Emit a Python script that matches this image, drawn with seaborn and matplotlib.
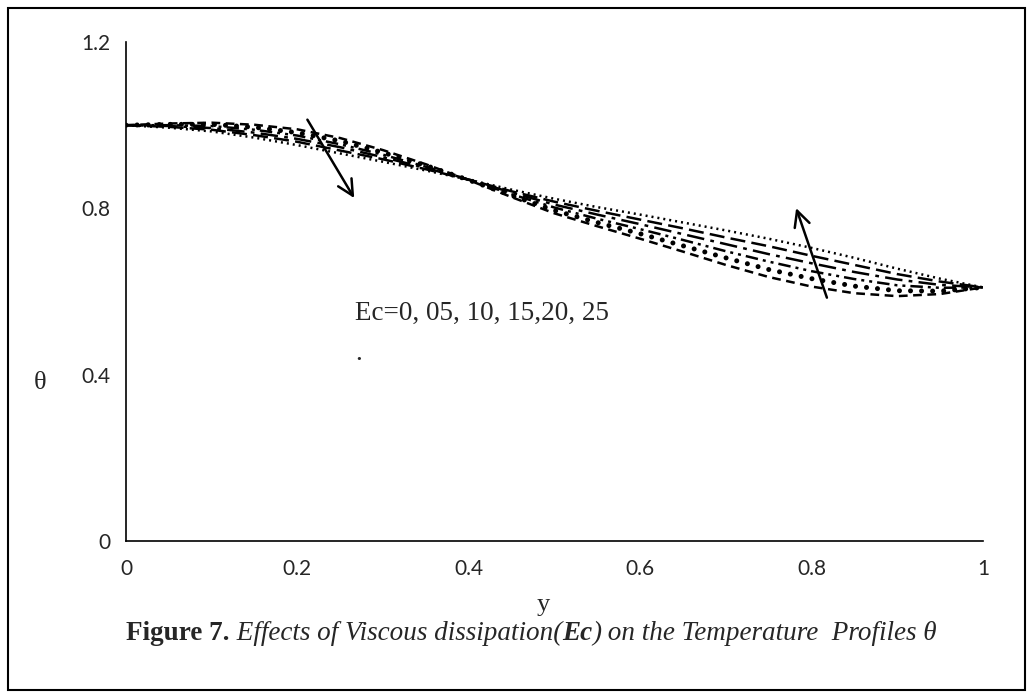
import numpy as np
import pandas as pd
import matplotlib.pyplot as plt
import matplotlib.patches as mpatches
import seaborn as sns

# valeurs (y de 0 a 1, pas 0.05)
y_vals = [0.00, 0.05, 0.10, 0.15, 0.20, 0.25, 0.30, 0.35, 0.40, 0.45, 0.50,
          0.55, 0.60, 0.65, 0.70, 0.75, 0.80, 0.85, 0.90, 0.95, 1.00]
theta_ec0 = [1.000, 0.994, 0.985, 0.970, 0.952, 0.932, 0.912, 0.891, 0.869, 0.845, 0.823,
             0.803, 0.785, 0.766, 0.747, 0.727, 0.705, 0.681, 0.655, 0.631, 0.610]
theta_ec5 = [1.000, 0.996, 0.989, 0.976, 0.960, 0.939, 0.918, 0.894, 0.869, 0.841, 0.816,
             0.794, 0.773, 0.752, 0.730, 0.709, 0.686, 0.664, 0.642, 0.624, 0.610]
theta_ec10 = [1.000, 0.998, 0.993, 0.982, 0.967, 0.947, 0.923, 0.897, 0.869, 0.838, 0.809,
              0.785, 0.762, 0.738, 0.714, 0.690, 0.668, 0.647, 0.629, 0.616, 0.610]
theta_ec15 = [1.000, 1.000, 0.998, 0.989, 0.975, 0.954, 0.929, 0.900, 0.869, 0.834, 0.802,
              0.775, 0.750, 0.724, 0.697, 0.672, 0.649, 0.630, 0.615, 0.609, 0.610]
theta_ec20 = [1.000, 1.002, 1.002, 0.995, 0.982, 0.962, 0.934, 0.903, 0.868, 0.831, 0.795,
              0.766, 0.739, 0.710, 0.681, 0.653, 0.631, 0.613, 0.602, 0.601, 0.610]
theta_ec25 = [1.000, 1.004, 1.006, 1.001, 0.990, 0.969, 0.940, 0.906, 0.868, 0.827, 0.788,
              0.757, 0.727, 0.696, 0.664, 0.635, 0.612, 0.596, 0.589, 0.594, 0.610]

ec_labels = ['0', '5', '10', '15', '20', '25']
x_ticks = [0, 0.2, 0.4, 0.6, 0.8, 1]
x_ticklabels = ['0', '0.2', '0.4', '0.6', '0.8', '1']
y_ticks = [0, 0.4, 0.8, 1.2]
y_ticklabels = ['0', '0.4', '0.8', '1.2']

series = [theta_ec0, theta_ec5, theta_ec10, theta_ec15, theta_ec20, theta_ec25]
df = pd.concat([pd.DataFrame({'y': y_vals, 'theta': s, 'Ec': ec})
                for ec, s in zip(ec_labels, series)], ignore_index=True)

sns.set_style('white')

fig = plt.figure(figsize=(10.33, 7.0), dpi=100)
ax = fig.add_axes([0.122, 0.227, 0.8295, 0.713])

dashes = {'0': (0.8, 1.6), '5': (6, 2.5), '10': (7, 2.5, 1.5, 2.5),
          '15': (5, 2, 1.2, 2, 1.2, 2), '20': (0.01, 2.2), '25': (3.5, 2.2)}
sns.lineplot(data=df, x='y', y='theta', style='Ec', dashes=dashes, color='black',
             linewidth=1.8, legend=False, ax=ax, sort=False)
for line, ec in zip(ax.get_lines(), ec_labels):
    if ec == '20':
        line.set_linewidth(3.6)
        line.set_dash_capstyle('round')

ax.set_xlim(0, 1)
ax.set_ylim(0, 1.2)
ax.set_xticks(x_ticks)
ax.set_xticklabels(x_ticklabels)
ax.set_yticks(y_ticks)
ax.set_yticklabels(y_ticklabels)
ax.tick_params(axis='both', direction='out', length=6, width=1.2, color='black',
               labelsize=15)
ax.tick_params(axis='x', pad=7)
ax.tick_params(axis='y', pad=5)
for lab in ax.get_xticklabels() + ax.get_yticklabels():
    lab.set_fontfamily('Lato')
sns.despine(ax=ax)
for side in ['left', 'bottom']:
    ax.spines[side].set_color('black')
    ax.spines[side].set_linewidth(1.2)
ax.set_xlabel('')
ax.set_ylabel('')

# fleches
ax.annotate('', xy=(0.268, 0.819), xytext=(0.210, 1.019),
            arrowprops=dict(arrowstyle='->', lw=1.8, color='black', mutation_scale=28))
ax.annotate('', xy=(0.781, 0.807), xytext=(0.819, 0.579),
            arrowprops=dict(arrowstyle='->', lw=1.8, color='black', mutation_scale=28))

ax.text(0.267, 0.548, 'Ec=0, 05, 10, 15,20, 25', fontsize=19.5,
        fontfamily='Liberation Serif', va='center')
ax.text(0.267, 0.45, '.', fontsize=19.5, fontfamily='Liberation Serif', va='center')

fig.text(0.039, 0.453, 'θ', fontsize=19, fontfamily='Liberation Serif',
         ha='center', va='center')
fig.text(0.526, 0.135, 'y', fontsize=19, fontfamily='Liberation Serif',
         ha='center', va='center')

# legende de la figure, morceaux mis bout a bout
pieces = [('Figure 7.', 'normal', 'bold'),
          (' Effects of Viscous dissipation(', 'italic', 'normal'),
          ('Ec', 'italic', 'bold'),
          (') on the Temperature  Profiles θ', 'italic', 'normal')]
fig.canvas.draw()
renderer = fig.canvas.get_renderer()
x_pos = 126
for txt, style, weight in pieces:
    t = fig.text(x_pos / 1033, 0.095, txt, fontsize=19.5, fontfamily='Liberation Serif',
                 fontstyle=style, fontweight=weight, va='center')
    x_pos += t.get_window_extent(renderer).width

fig.patches.append(mpatches.Rectangle((0.008, 0.014), 0.984, 0.975, fill=False,
                                      edgecolor='black', linewidth=1.5,
                                      transform=fig.transFigure, figure=fig))

fig.savefig('out.png', dpi=100)
